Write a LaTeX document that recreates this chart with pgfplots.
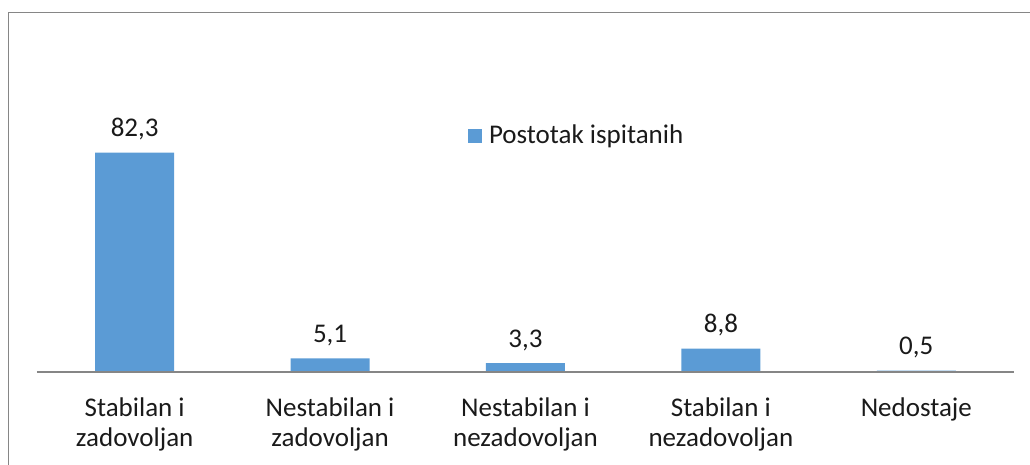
\documentclass[border=0pt]{standalone}
\usepackage{pgfplots}
\pgfplotsset{compat=1.18}
\usepackage{fontspec}
\setmainfont{Carlito}
\definecolor{barblue}{HTML}{5B9BD5}
\definecolor{bordergray}{HTML}{868686}
\definecolor{txt}{HTML}{1A1A1A}
\begin{document}
\begin{tikzpicture}[font=\fontsize{13.5pt}{15pt}\selectfont, text=txt]
\useasboundingbox (0,0) rectangle (515pt,-232.5pt);
\draw[bordergray, line width=0.75pt] (4.25pt,-232.5pt) -- (4.25pt,-6.25pt) -- (515pt,-6.25pt);
\begin{axis}[
  at={(18.5pt,-186pt)}, anchor=south west,
  scale only axis, width=488.5pt, height=120pt,
  xmin=-0.5, xmax=4.5, ymin=0, ymax=90,
  axis y line=none, axis x line=bottom,
  axis line style={-, bordergray, line width=0.9pt},
  axis on top=true,
  xtick={0,1,2,3,4},
  xticklabels={{Stabilan i\\zadovoljan},{Nestabilan i\\zadovoljan},{Nestabilan i\\nezadovoljan},{Stabilan i\\nezadovoljan},{Nedostaje}},
  major tick length=0pt,
  xticklabel style={align=center, anchor=north, inner sep=0pt, yshift=-12.9pt, font=\fontsize{13.5pt}{15pt}\selectfont, text=txt},
  ybar, bar width=39.5pt, bar shift=0pt,
  clip=false,
  nodes near coords,
  nodes near coords style={anchor=base, yshift=8pt, inner sep=0pt, text=txt, font=\fontsize{13.5pt}{15pt}\selectfont,
    /pgf/number format/.cd, fixed, fixed zerofill, precision=1, use comma, assume math mode=true},
  legend style={at={(0.4412,0.9833)}, anchor=west, draw=none, fill=none, inner sep=0pt, outer sep=0pt,
    font=\fontsize{13.5pt}{15pt}\selectfont, text=txt,
    nodes={inner sep=0pt},
    /tikz/every odd column/.append style={column sep=3.5pt}},
  legend image code/.code={\fill[barblue] (0pt,-3.5pt) rectangle (7pt,3.5pt);},
]
\addplot[fill=barblue, draw=none] coordinates {(0,82.3) (1,5.1) (2,3.3) (3,8.8) (4,0.5)};
\addlegendentry{Postotak ispitanih}
\end{axis}
\end{tikzpicture}
\end{document}
